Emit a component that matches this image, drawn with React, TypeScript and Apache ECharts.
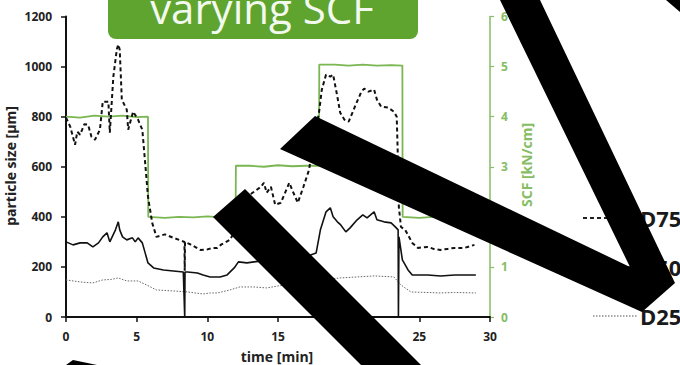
import React, { useEffect, useRef } from "react";
import * as echarts from "echarts";

// ---- data ----
const d75Time = [0, 0.3, 0.64, 0.8, 1.0, 1.3, 1.56, 1.8, 2.05, 2.4, 2.6, 3.0, 3.1, 3.35, 3.6, 3.7, 3.8, 3.95, 4.3, 4.4, 4.75, 5.1, 5.4, 5.6, 5.8, 6.1, 6.4, 7.0, 7.6, 8.0, 8.38, 8.4, 8.42, 8.8, 9.5, 10.0, 10.4, 10.7, 11.0, 11.6, 12.0, 12.5, 12.8, 13.3, 13.8, 14.0, 14.2, 14.5, 14.8, 15.2, 15.8, 16.0, 16.4, 16.8, 17.2, 17.5, 17.9, 18.1, 18.4, 18.7, 18.9, 19.2, 19.4, 19.7, 20.0, 20.3, 20.5, 20.9, 21.1, 21.4, 21.8, 22.0, 22.3, 22.8, 23.2, 23.4, 23.5, 23.55, 23.7, 24.0, 24.5, 24.9, 25.6, 26.0, 26.5, 27.0, 27.5, 28.2, 28.9];
const d75Values = [796, 760, 688, 740, 728, 770, 768, 720, 708, 748, 860, 860, 736, 960, 1070, 1088, 1068, 868, 828, 748, 820, 788, 748, 616, 480, 376, 320, 330, 316, 308, 300, 185, 300, 290, 268, 270, 276, 276, 290, 308, 350, 420, 480, 500, 520, 536, 496, 520, 448, 456, 536, 508, 456, 520, 588, 700, 816, 908, 968, 960, 968, 880, 816, 788, 780, 820, 848, 900, 912, 900, 908, 868, 840, 836, 820, 800, 600, 440, 360, 348, 296, 276, 280, 272, 268, 272, 276, 276, 288];

const d50Time = [0, 0.5, 1.0, 1.5, 1.9, 2.3, 2.6, 2.9, 3.1, 3.5, 3.7, 3.8, 4.0, 4.3, 4.7, 4.9, 5.1, 5.4, 5.6, 5.8, 6.2, 6.9, 7.6, 8.3, 8.4, 8.42, 8.6, 9.3, 9.7, 10.2, 10.9, 11.4, 11.9, 12.2, 12.8, 13.3, 14.0, 15.0, 16.0, 17.0, 17.4, 17.7, 18.0, 18.4, 18.7, 18.9, 19.2, 19.4, 19.8, 20.1, 20.6, 21.0, 21.3, 21.8, 22.0, 22.5, 23.0, 23.3, 23.5, 23.52, 23.56, 23.8, 24.2, 24.5, 25.6, 26.5, 27.5, 29.0];
const d50Values = [300, 288, 296, 296, 280, 296, 320, 336, 300, 348, 380, 348, 320, 308, 316, 300, 316, 296, 256, 216, 196, 188, 184, 180, 0, 180, 180, 176, 168, 160, 160, 168, 196, 220, 216, 220, 225, 230, 235, 240, 250, 256, 348, 420, 436, 400, 380, 370, 340, 356, 388, 408, 396, 420, 388, 380, 376, 360, 348, 0, 320, 228, 188, 168, 168, 164, 168, 168];

const d25Time = [0, 0.5, 1.0, 1.9, 2.6, 3.2, 3.7, 4.3, 5.1, 5.7, 6.4, 7.6, 8.6, 9.7, 10.2, 10.7, 11.6, 12.3, 13.3, 14.2, 15.0, 16.0, 17.0, 18.0, 19.4, 20.6, 21.8, 23.2, 23.7, 24.4, 25.5, 26.5, 27.5, 29.0];
const d25Values = [148, 144, 140, 136, 148, 150, 156, 144, 144, 128, 108, 104, 100, 92, 96, 96, 108, 120, 120, 116, 124, 130, 138, 148, 156, 160, 164, 160, 128, 100, 98, 96, 98, 96];

const scfTime = [0, 1, 2, 3, 4, 5, 5.8, 5.82, 7, 8, 9, 10, 11, 12.0, 12.02, 13, 14, 15, 16, 17, 17.9, 17.92, 19, 20, 21, 22, 23, 23.8, 23.82, 25, 26, 27, 28, 29];
const scfValues = [4.0, 3.98, 4.02, 4.0, 4.02, 3.99, 4.0, 2.0, 1.98, 2.0, 1.99, 2.01, 1.99, 2.0, 3.02, 3.02, 3.0, 3.03, 3.01, 3.02, 3.02, 5.04, 5.04, 5.02, 5.04, 5.02, 5.03, 5.02, 2.0, 1.98, 2.0, 2.0, 1.99, 2.0];

const xTicks = { min: 0, max: 30, interval: 5 };
const yTicks = { min: 0, max: 1200, interval: 200 };
const y2Ticks = { min: 0, max: 6, interval: 1 };

const legendNames = ["D75", "D50", "D25"];
const titleText = "varying SCF";

const zip = (t: number[], v: number[]) => t.map((x, i) => [x, v[i]]);
const plain = (v: number) => String(v);

const FONT = "'Open Sans', 'DejaVu Sans', sans-serif";
const GREEN_BOX = "#5fa42f";
const GREEN_LINE = "#7ab651";
const GREEN_AXIS = "#86bd63";

export default function App() {
  const ref = useRef<HTMLDivElement>(null);
  useEffect(() => {
    if (!ref.current) return;
    const chart = echarts.init(ref.current, null, { renderer: "svg" });
    const black = { fill: "#000" };
    chart.setOption({
      animation: false,
      backgroundColor: "#fff",
      grid: { left: 66, right: 190, top: 16.5, bottom: 48 },
      xAxis: {
        type: "value",
        ...xTicks,
        axisLine: { lineStyle: { color: "#111", width: 2 } },
        axisTick: { show: true, length: 5, lineStyle: { color: "#111", width: 1.5 } },
        axisLabel: { color: "#222", fontFamily: FONT, fontWeight: "bold", fontSize: 12, margin: 13, formatter: plain },
        splitLine: { show: false },
      },
      yAxis: [
        {
          type: "value",
          ...yTicks,
          axisLine: { show: true, lineStyle: { color: "#111", width: 2 } },
          axisTick: { show: true, length: 5, lineStyle: { color: "#111", width: 1.5 } },
          axisLabel: { color: "#222", fontFamily: FONT, fontWeight: "bold", fontSize: 12, margin: 14, formatter: plain },
          splitLine: { show: false },
        },
        {
          type: "value",
          position: "right",
          ...y2Ticks,
          axisLine: { show: true, lineStyle: { color: GREEN_AXIS, width: 1.5 } },
          axisTick: { show: true, length: 4, lineStyle: { color: GREEN_AXIS, width: 1.2 } },
          axisLabel: { color: GREEN_AXIS, fontFamily: FONT, fontWeight: "bold", fontSize: 12, margin: 11, formatter: plain },
          splitLine: { show: false },
        },
      ],
      series: [
        {
          name: "SCF",
          type: "line",
          yAxisIndex: 1,
          data: zip(scfTime, scfValues),
          showSymbol: false,
          lineStyle: { color: GREEN_LINE, width: 1.8 },
          z: 1,
        },
        {
          name: legendNames[2],
          type: "line",
          data: zip(d25Time, d25Values),
          showSymbol: false,
          lineStyle: { color: "#666", width: 1, type: [1.5, 1.5] },
          z: 2,
        },
        {
          name: legendNames[1],
          type: "line",
          data: zip(d50Time, d50Values),
          showSymbol: false,
          lineStyle: { color: "#111", width: 1.6 },
          z: 3,
        },
        {
          name: legendNames[0],
          type: "line",
          data: zip(d75Time, d75Values),
          showSymbol: false,
          lineStyle: { color: "#111", width: 2, type: [4, 3] },
          z: 4,
        },
      ],
      graphic: [
        // axis titles
        {
          type: "text", x: 10, y: 166, rotation: Math.PI / 2,
          style: { text: "particle size [µm]", fill: "#222", font: `bold 14px ${FONT}`, textAlign: "center", textVerticalAlign: "middle" },
        },
        {
          type: "text", x: 526, y: 165, rotation: Math.PI / 2,
          style: { text: "SCF [kN/cm]", fill: GREEN_AXIS, font: `bold 14px ${FONT}`, textAlign: "center", textVerticalAlign: "middle" },
        },
        {
          type: "text", x: 277, y: 356,
          style: { text: "time [min]", fill: "#222", font: `bold 14px ${FONT}`, textAlign: "center", textVerticalAlign: "middle" },
        },
        // title box
        { type: "rect", shape: { x: 108, y: -12, width: 310, height: 51, r: 8 }, style: { fill: GREEN_BOX } },
        {
          type: "text", x: 262, y: 28,
          style: { text: titleText, fill: "#f3f9ee", font: `42px ${FONT}`, textAlign: "center", textVerticalAlign: "bottom" },
        },
        // legend
        { type: "line", shape: { x1: 583, y1: 218, x2: 634, y2: 218 }, style: { stroke: "#222", lineWidth: 2, lineDash: [4, 3] } },
        { type: "line", shape: { x1: 583, y1: 267, x2: 634, y2: 267 }, style: { stroke: "#222", lineWidth: 1.6 } },
        { type: "line", shape: { x1: 593, y1: 316, x2: 637, y2: 316 }, style: { stroke: "#555", lineWidth: 1.2, lineDash: [1.5, 1.5] } },
        {
          type: "text", x: 640, y: 218,
          style: { text: legendNames[0], fill: "#1a1a1a", font: `bold 22px ${FONT}`, textAlign: "left", textVerticalAlign: "middle" },
        },
        {
          type: "text", x: 640, y: 267,
          style: { text: legendNames[1], fill: "#1a1a1a", font: `bold 22px ${FONT}`, textAlign: "left", textVerticalAlign: "middle" },
        },
        {
          type: "text", x: 640, y: 316,
          style: { text: legendNames[2], fill: "#1a1a1a", font: `bold 22px ${FONT}`, textAlign: "left", textVerticalAlign: "middle" },
        },
        // black scribble overlay
        { type: "polygon", z: 100, shape: { points: [[245, 189], [213, 217], [361, 365], [421, 365]] }, style: black },
        { type: "polygon", z: 100, shape: { points: [[315, 116], [630, 267], [500, 0], [540, 0], [675, 283], [642, 312], [280, 149]] }, style: black },
        { type: "polygon", z: 100, shape: { points: [[666, 0], [680, 0], [680, 12]] }, style: black },
        { type: "polygon", z: 100, shape: { points: [[66, 365], [73, 360], [97, 365]] }, style: black },
      ],
    });
    return () => chart.dispose();
  }, []);
  return <div ref={ref} style={{ width: 680, height: 365, position: "absolute", left: 0, top: 0 }} />;
}
